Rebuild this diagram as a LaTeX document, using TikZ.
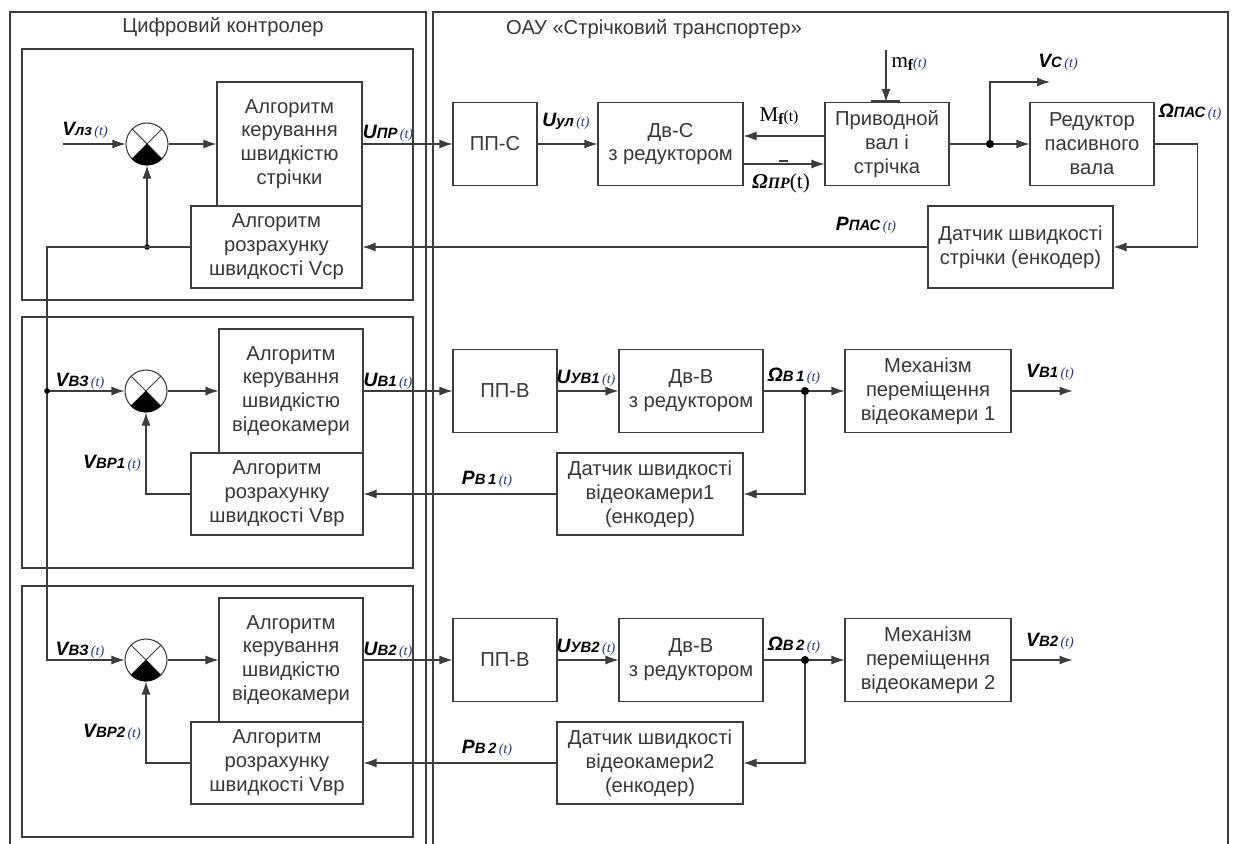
\documentclass[tikz,border=0pt]{standalone}
\usepackage{fontspec}
\setmainfont{Liberation Sans}
\newfontfamily\tnr{Liberation Serif}
\usetikzlibrary{arrows.meta}
\definecolor{lgray}{RGB}{60,60,60}
\definecolor{txt}{RGB}{55,55,55}
\definecolor{tcol}{RGB}{40,55,110}
% позначення сигналу: літера, індекс, (t)
\newcommand{\sgn}[2]{\textbf{\textit{#1{\fontsize{8.5}{9}\selectfont #2}}}\textcolor{tcol}{\tnr\itshape\fontsize{8}{9}\selectfont\,(t)}}

\begin{document}
\begin{tikzpicture}[x=0.02cm, y=-0.02cm, line width=0.6pt, color=lgray,
    >={Latex[length=2.6mm, width=1.8mm]},
    blk/.style={draw=lgray, align=center, inner sep=1pt, text=txt, font=\fontsize{11.5}{13.6}\selectfont},
    frm/.style={draw=lgray, line width=0.8pt},
    lbl/.style={inner sep=0pt, text=black, font=\fontsize{11}{12}\selectfont},
    sum/.style={circle, draw=lgray, minimum size=0.84cm, inner sep=0pt}]
    \useasboundingbox (0,0) rectangle (1235,844);

    % Цифровий контролер
    \draw[frm] (10,844) -- (10,12) -- (426,12) -- (426,844);
    \node[text=txt, font=\fontsize{11.5}{13}\selectfont] (tC) at (223,27) {Цифровий контролер};
    \draw[frm] (22,49) rectangle (413,300);
    \node[sum] (s1) at (147,144) {};
    \node[blk, minimum width=2.9cm, minimum height=2.48cm] (kerS) at (289.5,144) {Алгоритм\\керування\\швидкістю\\стрічки};
    \node[blk, minimum width=3.42cm, minimum height=1.64cm] (rozS) at (276.5,247) {Алгоритм\\розрахунку\\швидкості Vср};

    % ОАУ «Стрічковий транспортер»
    \draw[frm] (433,844) -- (433,12) -- (1228,12) -- (1228,844);
    \node[text=txt, font=\fontsize{11.5}{13}\selectfont] (tO) at (654,29) {ОАУ «Стрічковий транспортер»};
    \node[blk, minimum width=1.68cm, minimum height=1.66cm] (ppS) at (495,144) {ПП-С};
    \node[blk, minimum width=2.9cm, minimum height=1.66cm] (dvS) at (670.5,144) {Дв-С\\з редуктором};
    \node[blk, minimum width=2.48cm, minimum height=1.66cm] (priv) at (887,144) {Приводной\\вал і\\стрічка};
    \node[blk, minimum width=2.48cm, minimum height=1.66cm] (red) at (1092,144) {Редуктор\\пасивного\\вала};
    \node[blk, minimum width=3.7cm, minimum height=1.64cm] (datS) at (1020.5,247) {Датчик швидкості\\стрічки (енкодер)};

    % зв'язки стрічки
    \coordinate (vlz) at (63,144);
    \coordinate (mf) at (886,50);
    \coordinate (j1) at (990,144);
    \coordinate (vc) at (1050,82);
    \coordinate (k) at (47,247);
    \coordinate (j2) at (s1 |- rozS.west);
    \draw[->] (vlz) -- (s1.west);
    \draw[->] (s1.east) -- (kerS.west);
    \draw[->] (kerS.east) -- (ppS.west);
    \draw[->] (ppS.east) -- (dvS.west);
    \draw[->] (priv.west |- 0,136) -- (dvS.east |- 0,136);
    \draw[->] (dvS.east |- 0,164) -- (priv.west |- 0,164);
    \draw[line width=1.3pt] (779,161) -- (788,161);
    \draw[->] (mf) -- (mf |- priv.north);
    \draw (871,101) -- (900,101);
    \draw[->] (priv.east) -- (red.west);
    \draw[->] (j1) |- (vc);
    \draw[->] (red.east) -- ++(43,0) |- (datS.east);
    \draw[->] (datS.west) -- (rozS.east);
    \draw[->] (j2) -- (s1.south);
    \fill[black] (j1) circle[radius=2.3pt];
    \fill[black] (j2) circle[radius=1.6pt];

    \node[lbl] (lVl) at (85,130) {\sgn{V}{лз}};
    \node[lbl] (lUp) at (388,133) {\sgn{U}{ПР}};
    \node[lbl] (lUu) at (566,121) {\sgn{U}{ул}};
    \node[lbl] (lMf) at (779,116) {{\tnr\fontsize{12}{13}\selectfont M\raisebox{-0.3ex}{\bfseries\fontsize{9}{10}\selectfont f}\fontsize{9}{10}\selectfont(t)}};
    \node[lbl] (lOp) at (781,183) {{\tnr\bfseries\itshape\fontsize{12}{13}\selectfont Ω\fontsize{9}{10}\selectfont ПР}{\tnr\fontsize{12}{13}\selectfont(t)}};
    \node[lbl] (lmf) at (909,64) {{\tnr\fontsize{12}{13}\selectfont m\raisebox{-0.3ex}{\bfseries\fontsize{9}{10}\selectfont f}}\textcolor{tcol}{\tnr\itshape\fontsize{8}{9}\selectfont(t)}};
    \node[lbl] (lVc) at (1058,62) {\sgn{V}{С}};
    \node[lbl] (lOm) at (1190,112) {\sgn{Ω}{ПАС}};
    \node[lbl] (lPp) at (866,225) {\sgn{P}{ПАС}};

    % контури відеокамер
    \foreach \n/\y in {1/391, 2/660} {
        \draw[frm] (22,\y-74) rectangle (413,\y+177);
        \node[sum] (sB\n) at (146,\y) {};
        \node[blk, minimum width=2.88cm, minimum height=2.48cm] (kerB\n) at (291,\y) {Алгоритм\\керування\\швидкістю\\відеокамери};
        \node[blk, minimum width=3.44cm, minimum height=1.64cm] (rozB\n) at (277,\y+103) {Алгоритм\\розрахунку\\швидкості Vвр};
        \node[blk, minimum width=2.08cm, minimum height=1.66cm] (ppB\n) at (505,\y) {ПП-В};
        \node[blk, minimum width=2.88cm, minimum height=1.66cm] (dvB\n) at (691,\y) {Дв-В\\з редуктором};
        \node[blk, minimum width=3.32cm, minimum height=1.66cm] (mexB\n) at (928,\y) {Механізм\\переміщення\\відеокамери \n};
        \node[blk, minimum width=3.72cm, minimum height=1.64cm] (datB\n) at (650,\y+103) {Датчик швидкості\\відеокамери\n\\(енкодер)};
        \coordinate (jB\n) at (805,\y);
        \draw[->] (sB\n.east) -- (kerB\n.west);
        \draw[->] (kerB\n.east) -- (ppB\n.west);
        \draw[->] (ppB\n.east) -- (dvB\n.west);
        \draw[->] (dvB\n.east) -- (mexB\n.west);
        \draw[->] (mexB\n.east) -- ++(61,0);
        \draw[->] (jB\n) |- (datB\n.east);
        \draw[->] (datB\n.west) -- (rozB\n.east);
        \draw[->] (rozB\n.west) -| (sB\n.south);
        \fill[black] (jB\n) circle[radius=2.3pt];
        \node[lbl] (lVz\n) at (80,\y-10) {\sgn{V}{ВЗ}};
        \node[lbl] (lUb\n) at (388,\y-10) {\sgn{U}{В\n}};
        \node[lbl] (lVr\n) at (112,\y+72) {\sgn{V}{ВР\n}};
        \node[lbl] (lUy\n) at (586,\y-13) {\sgn{U}{УВ\n}};
        \node[lbl] (lOb\n) at (794,\y-15) {\sgn{Ω}{В\,\n}};
        \node[lbl] (lPb\n) at (487,\y+88) {\sgn{P}{В\,\n}};
        \node[lbl] (lVb\n) at (1050,\y-19) {\sgn{V}{В\n}};
    }

    % задане значення для відеокамер
    \coordinate (j3) at (k |- sB1);
    \draw[->] (rozS.west) -- (k) |- (sB2.west);
    \draw[->] (j3) -- (sB1.west);
    \fill[black] (j3) circle[radius=1.6pt];

    % суматори
    \foreach \s in {s1,sB1,sB2} {
        \draw (\s.north west) -- (\s.south east) (\s.north east) -- (\s.south west);
        \fill[black] (\s.center) -- (\s.south west) arc[start angle=225, end angle=315, radius=0.42cm] -- cycle;
    }
\end{tikzpicture}
\end{document}
